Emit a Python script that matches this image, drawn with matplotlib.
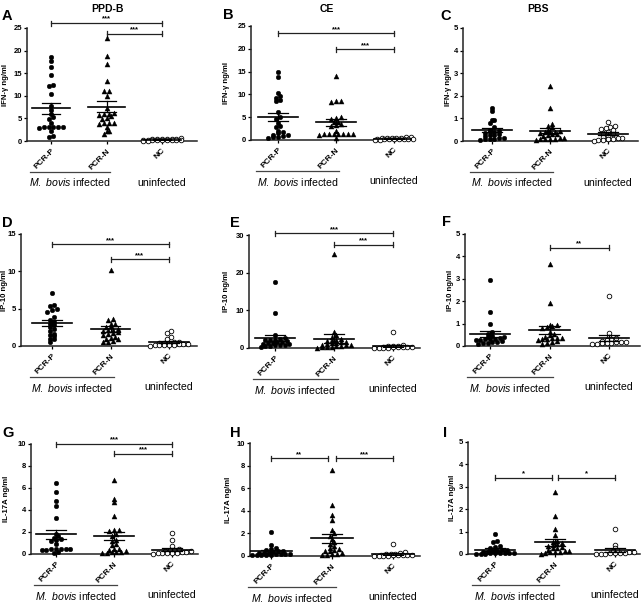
import numpy as np
import matplotlib
matplotlib.use('Agg')
import matplotlib.pyplot as plt
from matplotlib.transforms import blended_transform_factory

plt.rcParams['font.family'] = ['Liberation Sans', 'DejaVu Sans']
plt.rcParams['mathtext.fontset'] = 'custom'
plt.rcParams['mathtext.it'] = 'Liberation Sans:italic'
plt.rcParams['mathtext.rm'] = 'Liberation Sans'

groups = ['PCR-P', 'PCR-N', 'NC']

# IFN-gamma (ng/ml), PPD-B / CE / PBS
ifn_ppdb_p = [18.5, 17.8, 16.4, 14.5, 12.2, 12.3, 10.4, 7.8, 6.9, 6.0, 5.2, 4.8, 4.0,
              3.0, 3.0, 3.0, 3.0, 3.0, 2.9, 2.2, 1.0, 0.8]
ifn_ppdb_n = [22.7, 18.8, 17.1, 13.2, 11.0, 11.0, 10.0, 7.2, 6.1, 6.0, 5.9, 5.8, 5.5,
              5.0, 4.9, 4.0, 3.9, 3.9, 3.8, 3.1, 2.3, 2.2, 1.6]
ifn_ppdb_nc = [0.62, 0.55, 0.50, 0.48, 0.45, 0.40, 0.35, 0.32, 0.30, 0.28, 0.25, 0.22,
               0.20, 0.18, 0.15, 0.12, 0.10, 0.08]

ifn_ce_p = [15.0, 13.8, 10.2, 9.6, 9.3, 8.8, 8.5, 6.2, 5.0, 4.5, 3.8, 3.0, 2.8, 1.9,
            1.8, 1.5, 1.2, 1.0, 0.8, 0.7, 0.6, 0.5]
ifn_ce_n = [14.0, 8.6, 8.5, 8.4, 5.1, 4.9, 4.7, 4.0, 3.9, 3.5, 3.2, 3.0, 2.0, 1.3,
            1.3, 1.3, 1.3, 1.3, 1.3, 1.3, 1.2, 0.4]
ifn_ce_nc = [0.60, 0.55, 0.50, 0.45, 0.42, 0.40, 0.35, 0.32, 0.30, 0.25, 0.22, 0.20,
             0.18, 0.15, 0.12, 0.10, 0.08]

ifn_pbs_p = [1.48, 1.34, 0.95, 0.92, 0.80, 0.62, 0.50, 0.45, 0.40, 0.38, 0.35, 0.30,
             0.28, 0.25, 0.20, 0.15, 0.12, 0.10, 0.10, 0.08, 0.05]
ifn_pbs_n = [2.43, 1.47, 0.75, 0.68, 0.62, 0.50, 0.45, 0.42, 0.40, 0.38, 0.35, 0.32,
             0.30, 0.25, 0.20, 0.15, 0.12, 0.10, 0.10, 0.10, 0.08, 0.05]
ifn_pbs_nc = [0.85, 0.65, 0.62, 0.58, 0.52, 0.48, 0.40, 0.35, 0.30, 0.22, 0.18, 0.15,
              0.12, 0.10, 0.08, 0.06, 0.04, 0.02]

# IP-10 (ng/ml)
ip10_ppdb_p = [7.1, 5.5, 5.3, 5.0, 4.8, 4.6, 3.9, 3.5, 3.2, 3.0, 2.8, 2.5, 2.3, 2.0,
               1.6, 1.5, 1.4, 1.0, 0.9, 0.5]
ip10_ppdb_n = [10.2, 3.6, 3.5, 3.0, 2.9, 2.7, 2.5, 2.3, 2.2, 2.1, 2.0, 1.9, 1.8, 1.6,
               1.5, 1.2, 1.1, 1.0, 0.9, 0.7, 0.6, 0.5]
ip10_ppdb_nc = [2.0, 1.7, 1.2, 0.9, 0.6, 0.5, 0.4, 0.4, 0.35, 0.3, 0.3, 0.25, 0.2, 0.2,
                0.15, 0.1, 0.1, 0.05]

ip10_ce_p = [17.6, 9.2, 3.5, 2.6, 2.4, 2.2, 2.0, 2.0, 1.8, 1.6, 1.5, 1.4, 1.2, 1.1,
             1.0, 0.9, 0.8, 0.7, 0.6, 0.4, 0.3]
ip10_ce_n = [25.0, 4.2, 3.5, 2.8, 2.5, 2.2, 2.0, 1.8, 1.6, 1.5, 1.3, 1.2, 1.0, 0.9,
             0.8, 0.7, 0.6, 0.5, 0.3, 0.2, 0.2, 0.1]
ip10_ce_nc = [4.2, 0.8, 0.5, 0.45, 0.4, 0.35, 0.3, 0.25, 0.2, 0.2, 0.15, 0.12, 0.1,
              0.08, 0.05]

ip10_pbs_p = [2.95, 1.50, 1.00, 0.62, 0.55, 0.45, 0.40, 0.38, 0.35, 0.32, 0.30, 0.30,
              0.28, 0.25, 0.22, 0.20, 0.18, 0.15, 0.12, 0.10]
ip10_pbs_n = [3.65, 1.93, 0.95, 0.92, 0.88, 0.85, 0.80, 0.62, 0.55, 0.48, 0.42, 0.36,
              0.35, 0.34, 0.33, 0.30, 0.28, 0.22, 0.18, 0.15, 0.10]
ip10_pbs_nc = [2.22, 0.60, 0.42, 0.35, 0.30, 0.25, 0.22, 0.20, 0.18, 0.16, 0.15, 0.14,
               0.12, 0.10, 0.08]

# IL-17A (ng/ml)
il17_ppdb_p = [6.5, 5.6, 4.8, 4.4, 3.3, 1.8, 1.6, 1.5, 1.4, 1.3, 1.2, 0.9, 0.5, 0.5,
               0.5, 0.45, 0.45, 0.4, 0.4, 0.2, 0.1]
il17_ppdb_n = [6.7, 5.0, 4.7, 3.5, 2.2, 2.2, 2.1, 1.8, 1.6, 1.3, 1.2, 0.9, 0.8, 0.5,
               0.45, 0.4, 0.3, 0.2, 0.2, 0.2, 0.1, 0.1]
il17_ppdb_nc = [1.95, 1.25, 0.75, 0.45, 0.40, 0.35, 0.30, 0.25, 0.20, 0.15, 0.12, 0.10,
                0.08, 0.06, 0.05, 0.04]

il17_ce_p = [2.1, 1.0, 0.72, 0.60, 0.52, 0.45, 0.40, 0.35, 0.30, 0.28, 0.25, 0.22,
             0.20, 0.18, 0.15, 0.12, 0.10, 0.08, 0.06, 0.05]
il17_ce_n = [7.6, 4.5, 3.6, 3.2, 2.3, 2.0, 1.8, 1.5, 1.2, 1.1, 0.9, 0.7, 0.6, 0.5,
             0.45, 0.4, 0.3, 0.2, 0.15, 0.1, 0.1]
il17_ce_nc = [1.10, 0.35, 0.30, 0.22, 0.18, 0.15, 0.12, 0.10, 0.10, 0.08, 0.06, 0.05,
              0.04, 0.03, 0.02, 0.02]

il17_pbs_p = [0.90, 0.60, 0.55, 0.35, 0.30, 0.25, 0.20, 0.18, 0.15, 0.12, 0.10, 0.08,
              0.06, 0.05, 0.05, 0.04, 0.03, 0.03, 0.02, 0.02, 0.01]
il17_pbs_n = [2.75, 1.70, 1.10, 0.85, 0.60, 0.52, 0.48, 0.45, 0.40, 0.35, 0.30, 0.28,
              0.25, 0.20, 0.15, 0.12, 0.10, 0.10, 0.08, 0.05, 0.02]
il17_pbs_nc = [1.12, 0.42, 0.28, 0.18, 0.12, 0.10, 0.08, 0.06, 0.05, 0.04, 0.03, 0.02,
               0.02, 0.01]

# significance brackets: (from, to, height, stars)
sig_ifn_ppdb = [(1, 3, 26.1, '***'), (2, 3, 23.7, '***')]
sig_ifn_ce = [(1, 3, 23.4, '***'), (2, 3, 19.9, '***')]
sig_ifn_pbs = []
sig_ip10_ppdb = [(1, 3, 13.6, '***'), (2, 3, 11.6, '***')]
sig_ip10_ce = [(1, 3, 30.4, '***'), (2, 3, 27.4, '***')]
sig_ip10_pbs = [(2, 3, 4.39, '**')]
sig_il17_ppdb = [(1, 3, 10.0, '***'), (2, 3, 9.1, '***')]
sig_il17_ce = [(1, 1.93, 8.66, '**'), (2.07, 3, 8.66, '***')]
sig_il17_pbs = [(1, 1.95, 3.4, '*'), (2.05, 3, 3.4, '*')]

W, H = 642, 602
fig = plt.figure(figsize=(W / 100, H / 100), dpi=100)

# letter, title, ylabel, ymax, step, data, sig,
# (left, top, right, bottom px), (cat1, cat3 px), letter pos, title pos, ylabel x px
panels = [
    ('A', 'PPD-B', 'IFN-γ ng/ml', 25, 5, (ifn_ppdb_p, ifn_ppdb_n, ifn_ppdb_nc), sig_ifn_ppdb,
     (27, 28, 197, 141), (51, 162), (2, 16), (108, 9), 6),
    ('B', 'CE', 'IFN-γ ng/ml', 25, 5, (ifn_ce_p, ifn_ce_n, ifn_ce_nc), sig_ifn_ce,
     (251, 26, 412, 140), (278, 394), (223, 15), (327, 9), 227),
    ('C', 'PBS', 'IFN-γ ng/ml', 5, 1, (ifn_pbs_p, ifn_pbs_n, ifn_pbs_nc), sig_ifn_pbs,
     (463, 28, 638, 141), (492, 608), (440, 16), (538, 9), 449),
    ('D', None, 'IP-10 ng/ml', 15, 5, (ip10_ppdb_p, ip10_ppdb_n, ip10_ppdb_nc), sig_ip10_ppdb,
     (21, 234, 197, 346), (52, 169), (2, 223), None, 5),
    ('E', None, 'IP-10 ng/ml', 30, 10, (ip10_ce_p, ip10_ce_n, ip10_ce_nc), sig_ip10_ce,
     (249, 235, 420, 348), (275, 393), (230, 223), None, 227),
    ('F', None, 'IP-10 ng/ml', 5, 1, (ip10_pbs_p, ip10_pbs_n, ip10_pbs_nc), sig_ip10_pbs,
     (465, 234, 640, 346), (490, 609), (442, 222), None, 451),
    ('G', None, 'IL-17A ng/ml', 10, 2, (il17_ppdb_p, il17_ppdb_n, il17_ppdb_nc), sig_il17_ppdb,
     (31, 444, 198, 554), (56, 172), (2, 433), None, 6),
    ('H', None, 'IL-17A ng/ml', 10, 2, (il17_ce_p, il17_ce_n, il17_ce_nc), sig_il17_ce,
     (250, 443, 420, 556), (271, 393), (230, 433), None, 228),
    ('I', None, 'IL-17A ng/ml', 5, 1, (il17_pbs_p, il17_pbs_n, il17_pbs_nc), sig_il17_pbs,
     (468, 442, 640, 554), (495, 615), (443, 433), None, 453),
]


def swarm_offsets(vals, px_per_unit, dx, row_px=3.0, max_row=9):
    # GraphPad-like column scatter: points within a few pixels share a row
    order = np.argsort(vals, kind='stable')
    v = np.asarray(vals)[order]
    rows = []
    cur = [0]
    for i in range(1, len(v)):
        if (v[i] - v[cur[0]]) * px_per_unit < row_px and len(cur) < max_row:
            cur.append(i)
        else:
            rows.append(cur)
            cur = [i]
    rows.append(cur)
    offs = np.zeros(len(v))
    for r in rows:
        n = len(r)
        for k, idx in enumerate(r):
            offs[idx] = (k - (n - 1) / 2) * dx
    out = np.zeros(len(v))
    out[order] = offs
    return out


markers = [dict(marker='o', s=11, facecolor='black', edgecolor='black', linewidths=0.3),
           dict(marker='^', s=13, facecolor='black', edgecolor='black', linewidths=0.3),
           dict(marker='o', s=11, facecolor='white', edgecolor='black', linewidths=0.6)]

for letter, title, ylab, ymax, step, data, sig, rect, cats, lpos, tpos, ylx in panels:
    l, t, r, b = rect
    c1, c3 = cats
    sp = (c3 - c1) / 2
    ax = fig.add_axes([l / W, 1 - b / H, (r - l) / W, (b - t) / H])
    ax.set_xlim(1 - (c1 - l) / sp, 3 + (r - c3) / sp)
    ax.set_ylim(0, ymax)
    px_per_unit = (b - t) / ymax
    for spine in ['top', 'right']:
        ax.spines[spine].set_visible(False)
    for spine in ['left', 'bottom']:
        ax.spines[spine].set_linewidth(1.1)
        ax.spines[spine].set_color('#222222')

    for gi, vals in enumerate(data):
        x0 = gi + 1
        xs = x0 + swarm_offsets(vals, px_per_unit, 4.8 / sp)
        ax.scatter(xs, vals, zorder=3, clip_on=False, **markers[gi])
        m = np.mean(vals)
        sem = np.std(vals, ddof=1) / np.sqrt(len(vals))
        ax.plot([x0 - 0.34, x0 + 0.34], [m, m], color='black', lw=1.2, zorder=4)
        ax.plot([x0, x0], [m - sem, m + sem], color='black', lw=0.9, zorder=4)
        for yy in (m - sem, m + sem):
            ax.plot([x0 - 0.17, x0 + 0.17], [yy, yy], color='black', lw=0.9, zorder=4)

    tick_h = 2.5 / px_per_unit
    for xa, xb, hgt, stars in sig:
        ax.plot([xa, xb], [hgt, hgt], color='#222222', lw=0.9, clip_on=False)
        for xe in (xa, xb):
            ax.plot([xe, xe], [hgt - tick_h, hgt + tick_h], color='#222222', lw=0.9, clip_on=False)
        ax.text((xa + xb) / 2, hgt + 0.3 / px_per_unit, stars, ha='center', va='bottom',
                fontsize=5.5, fontweight='bold')

    yt = np.arange(0, ymax + step / 2, step)
    ax.set_yticks(yt)
    ax.set_yticklabels([str(int(v)) for v in yt], fontsize=5.5, fontweight='bold')
    ax.set_xticks([1, 2, 3])
    ax.set_xticklabels(groups, rotation=45, ha='right', va='top', rotation_mode='anchor',
                       fontsize=6, fontweight='bold')
    ax.tick_params(axis='both', length=2.5, width=0.9, pad=1)
    ax.tick_params(axis='x', pad=2)
    ax.set_ylabel(ylab, fontsize=5.6, fontweight='bold')
    ax.yaxis.label.set_verticalalignment('center')
    ax.yaxis.set_label_coords((ylx - l) / (r - l), 0.5)

    # group labels under the axis
    axh = b - t
    trans = blended_transform_factory(ax.transData, ax.transAxes)
    ax.plot([0.62, 2.06], [-31 / axh, -31 / axh], color='#444444', lw=0.9,
            transform=trans, clip_on=False)
    ax.text(1.34, -41.5 / axh, r'$\it{M.\ bovis}$ infected', transform=trans,
            ha='center', va='center', fontsize=7.6)
    ax.text(3.0, -41.5 / axh, 'uninfected', transform=trans,
            ha='center', va='center', fontsize=7.6)

    fig.text(lpos[0] / W, 1 - lpos[1] / H, letter, fontsize=10.5, fontweight='bold',
             ha='left', va='center')
    if title:
        fig.text(tpos[0] / W, 1 - tpos[1] / H, title, fontsize=7.5, fontweight='bold',
                 ha='center', va='center')

fig.savefig('out.png', dpi=100)
